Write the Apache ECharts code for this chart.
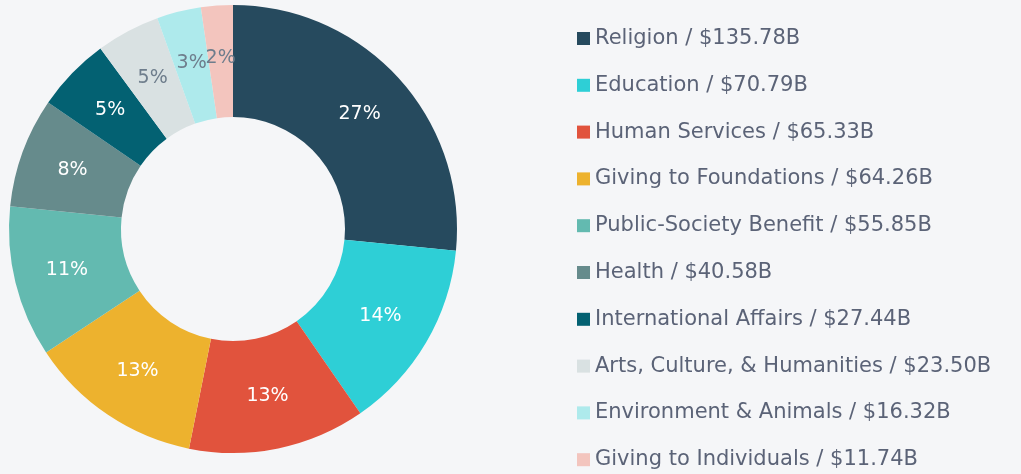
<!DOCTYPE html>
<html><head><meta charset="utf-8">
<script src="https://cdn.jsdelivr.net/npm/echarts@6/dist/echarts.min.js"></script>
<style>html,body{margin:0;padding:0;background:#f5f6f8;}#c{width:1021px;height:474px;}</style>
</head><body><div id="c"></div>
<script>
var categories = ["Religion","Education","Human Services","Giving to Foundations","Public-Society Benefit","Health","International Affairs","Arts, Culture, & Humanities","Environment & Animals","Giving to Individuals"];
var amounts = [135.78,70.79,65.33,64.26,55.85,40.58,27.44,23.50,16.32,11.74];
var colors = ["#264a5e","#2ecfd6","#e1533d","#edb22e","#63bab0","#668b8c","#036172","#d9e1e2","#aeeaec","#f3c5be"];
var darkLabel = [false,false,false,false,false,false,false,true,true,true];

var chart = echarts.init(document.getElementById('c'));
var data = categories.map(function(n,i){
  return {name:n, value:amounts[i], itemStyle:{color:colors[i]},
    label:{color: darkLabel[i] ? '#6e7d8c' : '#ffffff'}};
});
chart.setOption({
  backgroundColor:'#f5f6f8',
  animation:false,
  legend:{
    orient:'vertical', left:577, top:28, height:480, padding:0,
    itemWidth:13, itemHeight:13, itemGap:25.8,
    icon:'rect',
    textStyle:{fontFamily:'DejaVu Sans', fontSize:21, color:'#5b6377', lineHeight:21, padding:[0,0,0,0]},
    formatter:function(name){var i=categories.indexOf(name);return name+' / $'+amounts[i].toFixed(2)+'B';},
    data:categories
  },
  series:[{
    type:'pie',
    center:[233,229],
    radius:[112,224],
    startAngle:90,
    clockwise:true,
    avoidLabelOverlap:false,
    labelLayout:{hideOverlap:false},
    label:{show:true, position:'inside', fontFamily:'DejaVu Sans', fontSize:19,
      formatter:function(p){return Math.round(p.percent)+'%';}},
    labelLine:{show:false},
    emphasis:{disabled:true},
    data:data
  }]
});
</script></body></html>
